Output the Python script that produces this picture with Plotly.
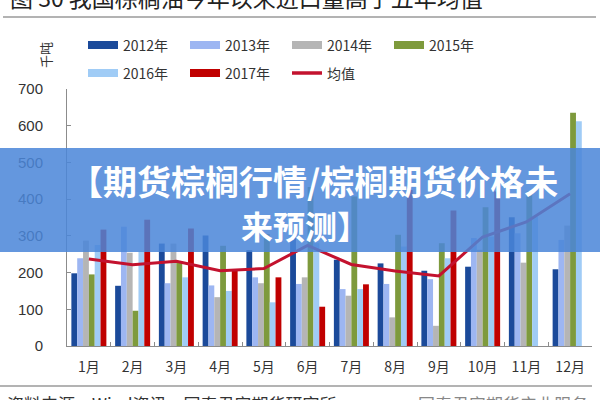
import plotly.graph_objects as go

months = ["1月", "2月", "3月", "4月", "5月", "6月", "7月", "8月", "9月", "10月", "11月", "12月"]
y2012 = [198, 164, 279, 301, 261, 298, 235, 225, 205, 216, 351, 209]
y2013 = [239, 325, 171, 165, 187, 169, 155, 169, 182, 294, 307, 289]
y2014 = [287, 254, 279, 133, 171, 187, 137, 78, 55, 262, 227, 328]
y2015 = [195, 96, 230, 273, 305, 433, 407, 303, 280, 378, 421, 635]
y2016 = [275, 257, 187, 150, 119, 280, 155, 271, 239, 298, 353, 612]
y2017 = [317, 344, 320, 205, 187, 107, 168, 425, 369, 421, None, None]
mean5 = [237, 221, 231, 205, 211, 274, 222, 204, 191, 297, 338, 415]

series_names = ["2012年", "2013年", "2014年", "2015年", "2016年", "2017年"]
series_vals = [y2012, y2013, y2014, y2015, y2016, y2017]
colors = ["#1B4A9A", "#9DB6F2", "#B5B5B5", "#7E9A3C", "#A0CCF6", "#C00000"]
mean_name = "均值"
mean_color = "#C3122E"

W, H = 600, 400
ML, MR, MT, MB = 67, 8, 89, 54
PW, PH = W - ML - MR, H - MT - MB

def px(x):
    return (x - ML) / PW

def py(y):
    return (H - MB - y) / PH

FONT = "Noto Sans CJK SC"

fig = go.Figure()
for name, vals, c in zip(series_names, series_vals, colors):
    fig.add_trace(go.Bar(x=months, y=vals, name=name, marker_color=c,
                         marker_line_width=0, showlegend=False))
fig.add_trace(go.Scatter(x=months, y=mean5, name=mean_name, mode="lines",
                         line=dict(color=mean_color, width=3), showlegend=False))

shapes = []
annotations = []

# manual legend
leg_items = list(zip(series_names, colors, ["bar"] * 6)) + [(mean_name, mean_color, "line")]
leg_x = [88, 190, 292, 394, 88, 190, 292]
leg_y = [45, 45, 45, 45, 73, 73, 73]
for (name, c, kind), lx, ly in zip(leg_items, leg_x, leg_y):
    if kind == "bar":
        shapes.append(dict(type="rect", xref="paper", yref="paper",
                           x0=px(lx), x1=px(lx + 30), y0=py(ly + 4), y1=py(ly - 4),
                           fillcolor=c, line_width=0, layer="above"))
    else:
        shapes.append(dict(type="line", xref="paper", yref="paper",
                           x0=px(lx), x1=px(lx + 30), y0=py(ly), y1=py(ly),
                           line=dict(color=c, width=3.5), layer="above"))
    annotations.append(dict(text=name, xref="paper", yref="paper", x=px(lx + 33), y=py(ly),
                            xanchor="left", yanchor="middle", showarrow=False,
                            font=dict(family=FONT, size=14, color="#333333")))

# y axis unit
annotations.append(dict(text="千吨", xref="paper", yref="paper", x=px(45), y=py(55),
                        textangle=-90, showarrow=False, xanchor="center", yanchor="middle",
                        font=dict(family=FONT, size=13, color="#333333")))

# title (cut off at top) and rule
annotations.append(dict(text="图 30 我国棕榈油今年以来进口量高于五年均值", xref="paper", yref="paper",
                        x=px(8), y=py(-3), xanchor="left", yanchor="middle", showarrow=False,
                        font=dict(family=FONT, size=23, color="#222222")))
shapes.append(dict(type="line", xref="paper", yref="paper", x0=px(3), x1=px(596),
                   y0=py(17), y1=py(17), line=dict(color="#9A9A9A", width=1.5)))

# source rule and text (cut off at bottom)
shapes.append(dict(type="line", xref="paper", yref="paper", x0=px(0), x1=px(592),
                   y0=py(386), y1=py(386), line=dict(color="#9A9A9A", width=1.5)))
annotations.append(dict(text="资料来源：Wind资讯，国泰君安期货研究所", xref="paper", yref="paper",
                        x=px(5), y=py(403), xanchor="left", yanchor="middle", showarrow=False,
                        font=dict(family=FONT, size=17, color="#333333")))
annotations.append(dict(text="国泰君安期货产业服务", xref="paper", yref="paper",
                        x=px(590), y=py(403), xanchor="right", yanchor="middle", showarrow=False,
                        font=dict(family=FONT, size=17, color="#888888")))

# overlay banner
shapes.append(dict(type="rect", xref="paper", yref="paper", x0=px(0), x1=px(600),
                   y0=py(252), y1=py(148), fillcolor="rgba(74,134,216,0.86)",
                   line_width=0, layer="above"))
annotations.append(dict(text="<b>【期货棕榈行情/棕榈期货价格未</b>", xref="paper", yref="paper",
                        x=px(313), y=py(180), xanchor="center", yanchor="middle", showarrow=False,
                        font=dict(family=FONT, size=34, color="white")))
annotations.append(dict(text="<b>来预测】</b>", xref="paper", yref="paper",
                        x=px(305), y=py(225), xanchor="center", yanchor="middle", showarrow=False,
                        font=dict(family=FONT, size=32, color="white")))

fig.update_layout(
    width=W, height=H,
    margin=dict(l=ML, r=MR, t=MT, b=MB),
    paper_bgcolor="white", plot_bgcolor="white",
    barmode="group", bargap=0.2, bargroupgap=0,
    showlegend=False,
    shapes=shapes, annotations=annotations,
    font=dict(family=FONT, size=13, color="#333333"),
)
fig.update_xaxes(showline=True, linecolor="#8C8C8C", linewidth=1,
                 ticks="inside", tickson="boundaries", ticklen=4, tickcolor="#8C8C8C",
                 showgrid=False, ticklabelstandoff=8,
                 tickfont=dict(family=FONT, size=14, color="#333333"))
fig.update_yaxes(range=[0, 700], dtick=100, showline=True, linecolor="#8C8C8C", linewidth=1,
                 ticks="inside", ticklen=4, tickcolor="#8C8C8C", showgrid=False,
                 zeroline=False, ticklabelstandoff=20,
                 tickfont=dict(family="Liberation Sans", size=15, color="#333333"))

fig.write_html("out.html", config={"displayModeBar": False},
               post_script="document.body.style.margin='0';document.body.style.overflow='hidden';")
